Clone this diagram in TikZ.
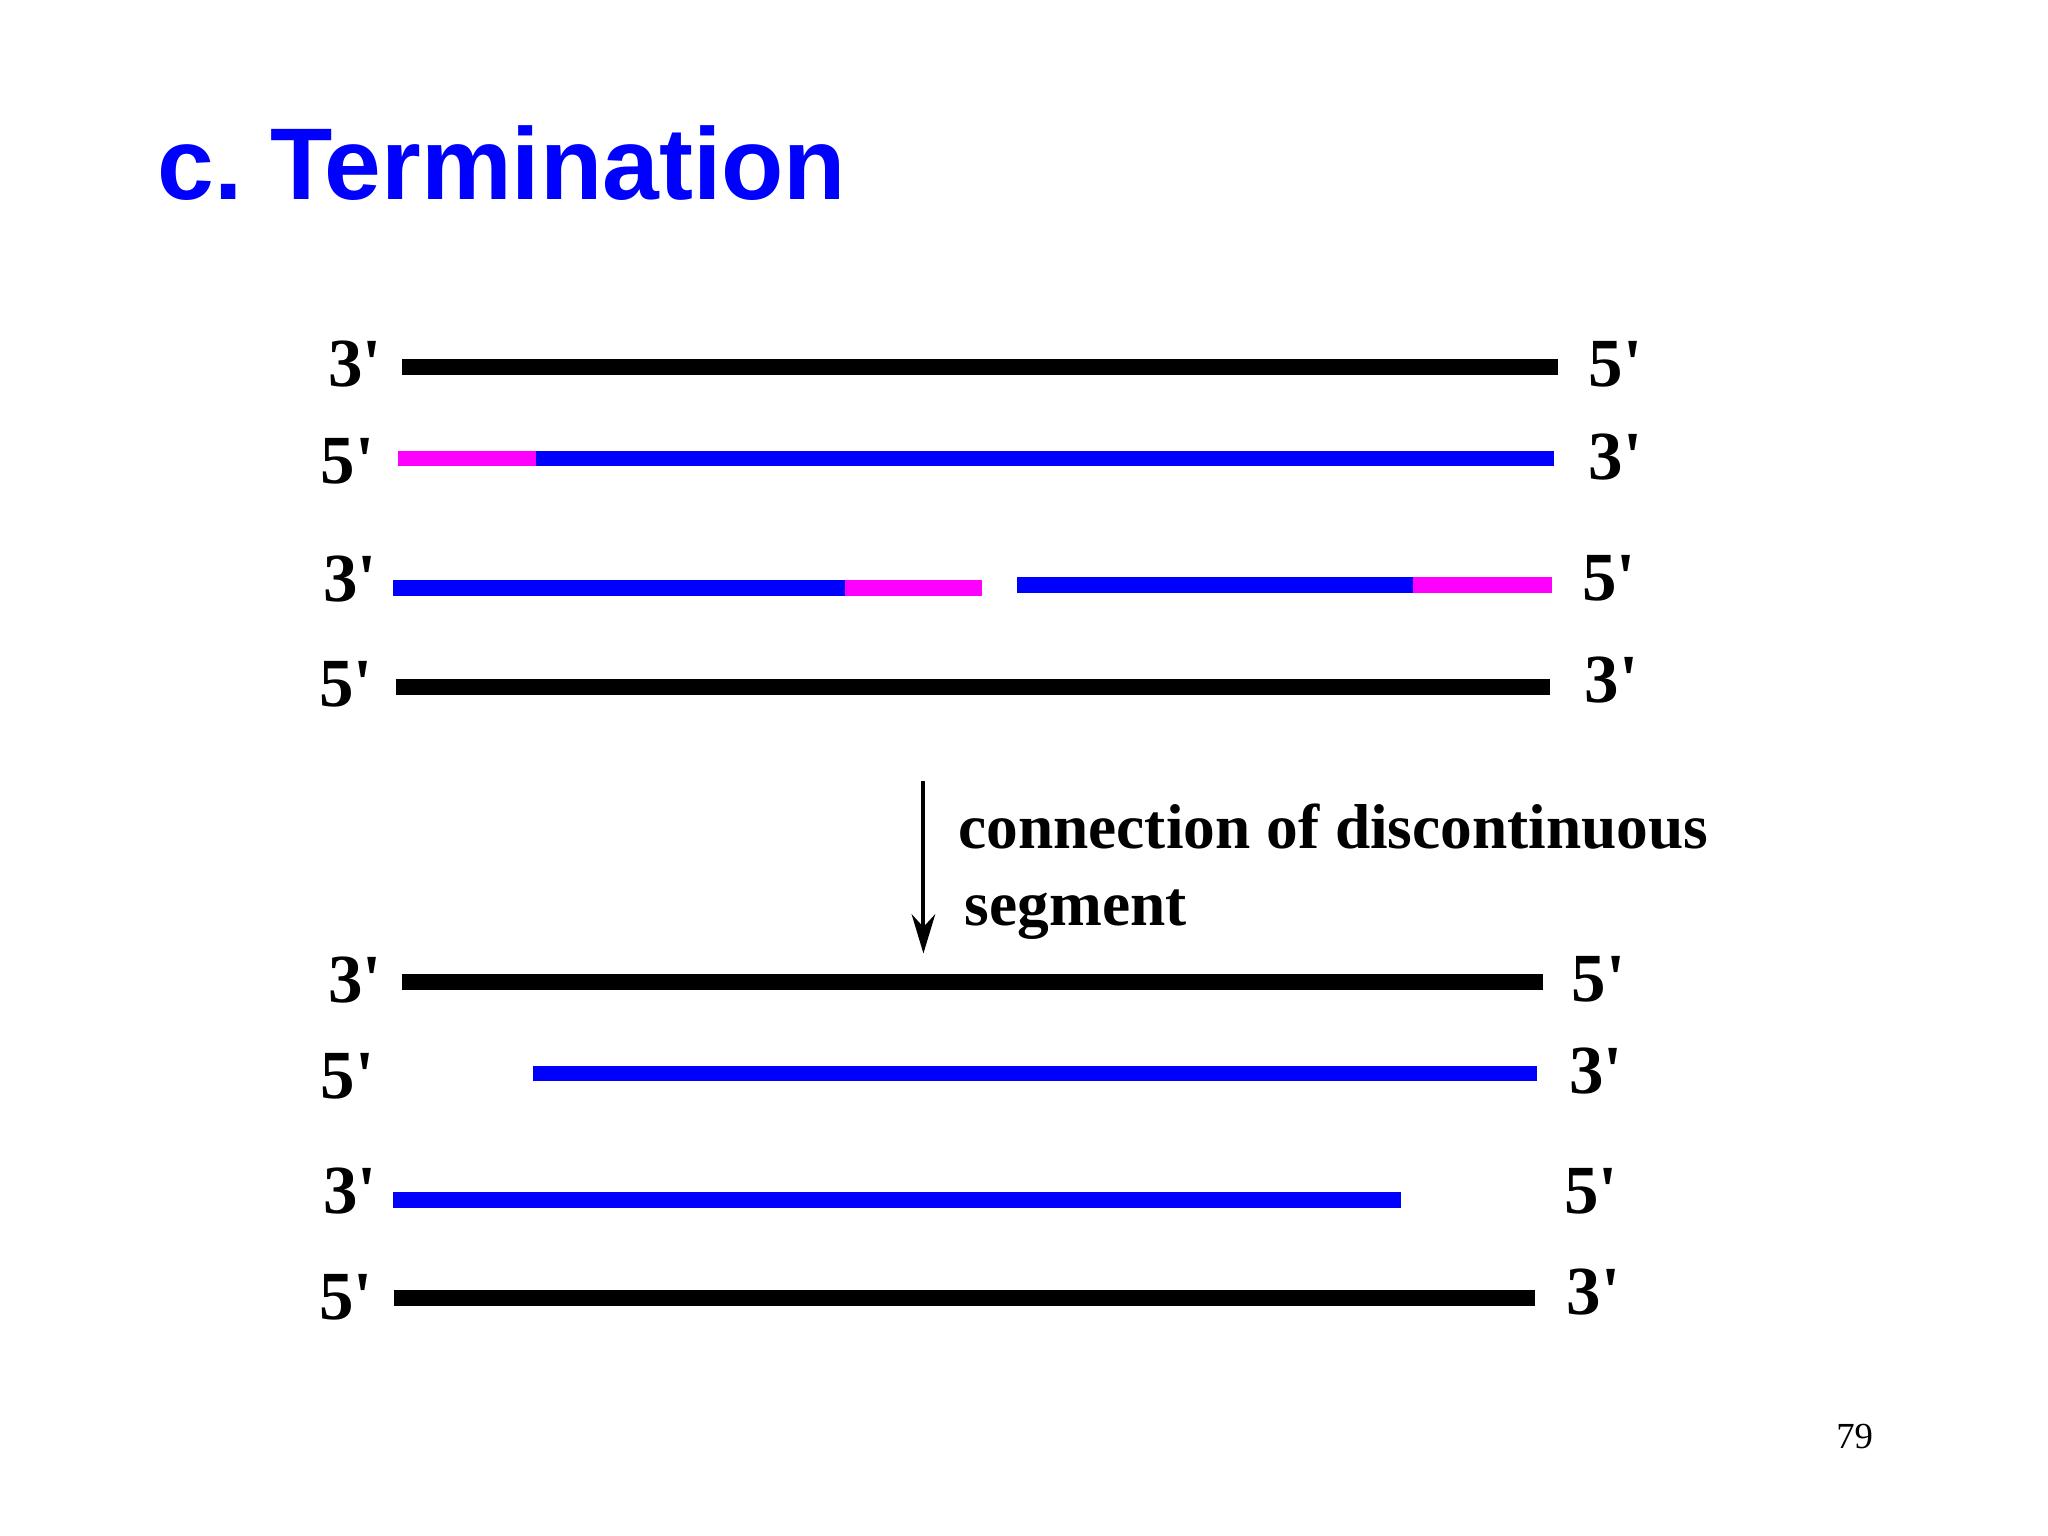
\documentclass[tikz,border=0pt]{standalone}
\usepackage{fontspec}
\usetikzlibrary{arrows.meta}
\setmainfont{Liberation Serif}
\newfontfamily\arialf{Liberation Sans}
\definecolor{myblue}{RGB}{0,0,255}
\definecolor{mymag}{RGB}{255,0,255}
\newcommand{\pr}{\textquotesingle}
\begin{document}
\begin{tikzpicture}[x=0.01cm,y=-0.01cm,
  strand/.style={line width=0.12cm},
  lab/.style={font=\fontsize{15}{18}\selectfont\bfseries, inner sep=0pt},
  capt/.style={font=\fontsize{13.8}{17}\selectfont\bfseries, inner sep=0pt, anchor=west}]
\useasboundingbox[fill=white] (0,0) rectangle (1568,1176);
\node[anchor=base west, inner sep=0pt, text=myblue, font=\arialf\fontsize{22.2}{26}\selectfont\bfseries] (title) at (120,153) {c.\hspace{0.21cm}Termination};
% row 1
\draw[strand] (308,281) -- (1193,281);
\node[lab] (a1) at (272,279) {3\pr}; \node[lab] (b1) at (1237,279) {5\pr};
% row 2
\draw[strand,mymag] (305,351) -- (410,351);
\draw[strand,myblue] (410,351) -- (1190,351);
\node[lab] (a2) at (266,353) {5\pr}; \node[lab] (b2) at (1237,350) {3\pr};
% row 3
\draw[strand,myblue] (301,450) -- (647,450);
\draw[strand,mymag] (647,450) -- (752,450);
\draw[strand,myblue] (779,448) -- (1082,448);
\draw[strand,mymag] (1082,448) -- (1188,448);
\node[lab] (a3) at (268,443) {3\pr}; \node[lab] (b3) at (1232,443) {5\pr};
% row 4
\draw[strand] (303,526) -- (1187,526);
\node[lab] (a4) at (265,524) {5\pr}; \node[lab] (b4) at (1234,521) {3\pr};
% arrow
\coordinate (p) at (707,598); \coordinate (q) at (707,730);
\draw[line width=0.03cm,-{Stealth[length=0.3cm,width=0.18cm]}] (p) -- (q);
\node[capt] (c1) at (733,633) {connection of discontinuous};
\node[capt] (c2) at (738,700) {segment};
% row 5
\draw[strand] (308,752) -- (1181,752);
\node[lab] (a5) at (272,750) {3\pr}; \node[lab] (b5) at (1224,750) {5\pr};
% row 6
\draw[strand,myblue] (408,822) -- (1177,822);
\node[lab] (a6) at (266,824) {5\pr}; \node[lab] (b6) at (1222,820) {3\pr};
% row 7
\draw[strand,myblue] (301,919) -- (1073,919);
\node[lab] (a7) at (268,912) {3\pr}; \node[lab] (b7) at (1218,912) {5\pr};
% row 8
\draw[strand] (302,994) -- (1175,994);
\node[lab] (a8) at (265,993) {5\pr}; \node[lab] (b8) at (1220,989) {3\pr};
\node[inner sep=0pt, font=\fontsize{8}{10}\selectfont] (pg) at (1420,1100) {79};
\end{tikzpicture}
\end{document}
